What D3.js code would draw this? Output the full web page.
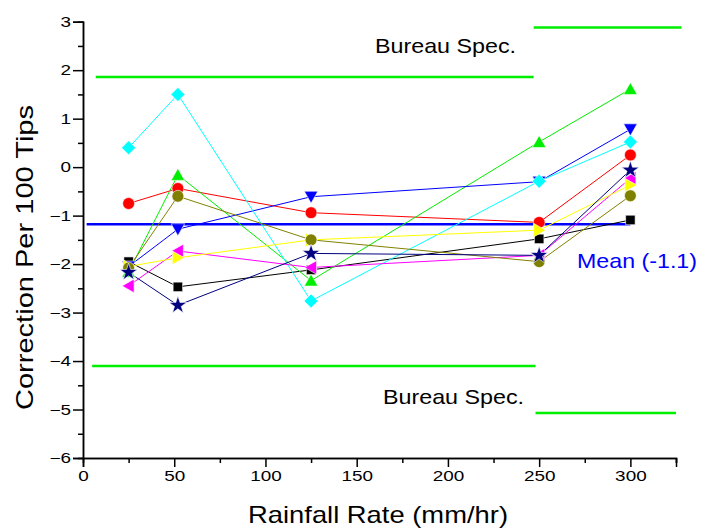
<!DOCTYPE html>
<html><head><meta charset="utf-8">
<script src="https://cdn.jsdelivr.net/npm/d3@7"></script>
<style>body{margin:0;background:#fff;} svg{display:block;} text{font-family:"Liberation Sans",Arial,sans-serif;}</style>
</head><body>
<svg id="c" width="701" height="531"></svg>
<script>
const rates = [25, 52, 125, 250, 300];
const blackSq = [-1.95, -2.47, -2.12, -1.48, -1.09];
const redCirc = [-0.75, -0.44, -0.94, -1.14, 0.25];
const greenUp = [-2.16, -0.16, -2.34, 0.52, 1.61];
const blueDown = [-2.05, -1.28, -0.61, -0.30, 0.78];
const cyanDiam = [0.40, 1.50, -2.76, -0.29, 0.52];
const magLeft = [-2.45, -1.73, -2.07, -1.82, -0.23];
const yelRight = [-2.05, -1.87, -1.50, -1.30, -0.37];
const oliveCirc = [-2.08, -0.60, -1.50, -1.95, -0.59];
const navyStar = [-2.17, -2.85, -1.78, -1.82, -0.06];
const meanValue = -1.18;
const meanRange = [2, 300];
const specUpper = [{x0: 7, x1: 247, y: 1.86}, {x0: 247, x1: 328, y: 2.88}];
const specLower = [{x0: 5, x1: 248, y: -4.10}, {x0: 248, x1: 325, y: -5.07}];
const xTicks = [0, 50, 100, 150, 200, 250, 300];
const yTicks = [-6, -5, -4, -3, -2, -1, 0, 1, 2, 3];

const svg = d3.select("#c");
const x = d3.scaleLinear().domain([0, 325]).range([83, 676]);
const y = d3.scaleLinear().domain([-6, 3]).range([458, 21.7]);

const series = [
  {v: blackSq, c: "#000000", m: "square"},
  {v: redCirc, c: "#ff0000", m: "circle"},
  {v: greenUp, c: "#00ee00", m: "up"},
  {v: blueDown, c: "#0000ff", m: "down"},
  {v: cyanDiam, c: "#00ffff", m: "diamond"},
  {v: magLeft, c: "#ff00ff", m: "left"},
  {v: yelRight, c: "#ffff00", m: "right"},
  {v: oliveCirc, c: "#808000", m: "circle"},
  {v: navyStar, c: "#000080", m: "star"}
];

// spec lines
svg.selectAll(".spec").data(specUpper.concat(specLower)).join("line")
  .attr("x1", d => x(d.x0)).attr("x2", d => x(d.x1))
  .attr("y1", d => y(d.y)).attr("y2", d => y(d.y))
  .attr("stroke", "#00ee00").attr("stroke-width", 2.5);

// mean line
svg.append("line").attr("x1", x(meanRange[0])).attr("x2", x(meanRange[1]))
  .attr("y1", y(meanValue)).attr("y2", y(meanValue))
  .attr("stroke", "#0000ff").attr("stroke-width", 2.5);

// axes
const xAxis = d3.axisBottom(x).tickValues(xTicks).tickSize(9).tickPadding(4).tickFormat(d3.format("d"));
const xMinor = d3.axisBottom(x).tickValues(d3.range(25, 326, 50)).tickSize(5).tickFormat("");
const yAxis = d3.axisLeft(y).tickValues(yTicks).tickSize(10).tickPadding(2).tickFormat(d3.format("d"));
const yMinor = d3.axisLeft(y).tickValues(d3.range(-5.5, 3, 1)).tickSize(5).tickFormat("");

function style(g){
  g.selectAll("path").attr("stroke", "#000").attr("stroke-width", 1.5);
  g.selectAll("line").attr("stroke", "#000").attr("stroke-width", 1.5);
  g.selectAll("text").attr("font-size", 14).attr("fill", "#000").attr("font-family", "Liberation Sans, Arial, sans-serif")
    .each(function(){ const w = this.getComputedTextLength(); if (w > 0) { d3.select(this).attr("textLength", w * 1.35).attr("lengthAdjust", "spacingAndGlyphs"); } });
}
svg.append("g").attr("transform", "translate(0,458)").call(xMinor).call(style);
svg.append("g").attr("transform", "translate(0,458)").call(xAxis).call(style);
svg.append("g").attr("transform", "translate(83,0)").call(yMinor).call(style);
svg.append("g").attr("transform", "translate(83,0)").call(yAxis).call(style);

// series lines
const line = d3.line().x((d, i) => x(rates[i])).y(d => y(d));
series.forEach(s => {
  svg.append("path").attr("d", line(s.v)).attr("fill", "none")
    .attr("stroke", s.c).attr("stroke-width", 1);
});

// markers
function markerPath(m){
  const r = 6;
  switch(m){
    case "square": return d3.symbol(d3.symbolSquare, 90)();
    case "circle": return d3.symbol(d3.symbolCircle, 110)();
    case "diamond": return `M0,${-r-1}L${r+1},0L0,${r+1}L${-r-1},0Z`;
    case "up": return `M0,${-r-0.5}L${r+0.8},${r-0.5}L${-r-0.8},${r-0.5}Z`;
    case "down": return `M0,${r+0.5}L${r+0.8},${-r+0.5}L${-r-0.8},${-r+0.5}Z`;
    case "left": return `M${-r-0.5},0L${r-0.5},${-r-0.8}L${r-0.5},${r+0.8}Z`;
    case "right": return `M${r+0.5},0L${-r+0.5},${-r-0.8}L${-r+0.5},${r+0.8}Z`;
    case "star": return d3.symbol(d3.symbolStar, 95)();
  }
}
series.forEach(s => {
  svg.append("g").selectAll("path").data(s.v).join("path")
    .attr("d", markerPath(s.m))
    .attr("transform", (d, i) => `translate(${x(rates[i])},${y(d)})`)
    .attr("fill", s.c).attr("stroke", "#fff").attr("stroke-width", 0.6);
});

// annotations
function label(txt, px, py, size, len, fill, anchor){
  return svg.append("text").attr("x", px).attr("y", py).attr("font-size", size)
    .attr("fill", fill || "#000").attr("text-anchor", anchor || "start")
    .attr("textLength", len).attr("lengthAdjust", "spacingAndGlyphs").text(txt);
}
label("Bureau Spec.", 375, 53, 21, 141);
label("Bureau Spec.", 383, 404, 21, 141);
label("Mean (-1.1)", 577, 268, 21, 120, "#0000ff");
label("Rainfall Rate (mm/hr)", 378, 523, 24, 260, "#000", "middle");
svg.append("text").attr("transform", "translate(33,257.5) rotate(-90)").attr("text-anchor", "middle")
  .attr("font-size", 24).attr("textLength", 305).attr("lengthAdjust", "spacingAndGlyphs").text("Correction Per 100 Tips");
</script>
</body></html>
